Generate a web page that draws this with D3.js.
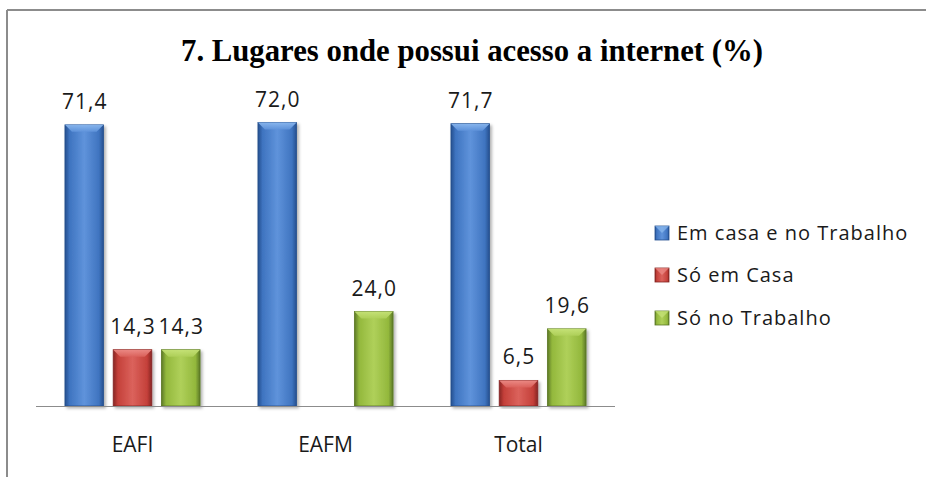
<!DOCTYPE html>
<html><head><meta charset="utf-8">
<script src="https://cdn.jsdelivr.net/npm/d3@7"></script>
<style>html,body{margin:0;padding:0;background:#fff;}svg{display:block;}</style>
</head><body>
<script>
const categories = ["EAFI", "EAFM", "Total"];
const seriesNames = ["Em casa e no Trabalho", "Só em Casa", "Só no Trabalho"];
const emCasaENoTrabalho = [71.4, 72.0, 71.7];
const soEmCasa = [14.3, null, 6.5];
const soNoTrabalho = [14.3, 24.0, 19.6];
const seriesValues = [emCasaENoTrabalho, soEmCasa, soNoTrabalho];
const title = "7. Lugares onde possui acesso a internet (%)";

const colors = [
  {base:"#3f74c0", light:"#5f93db", dark:"#244f8e", top:"#8dbaf0"},
  {base:"#c4403a", light:"#db625c", dark:"#862522", top:"#ee8f8a"},
  {base:"#93b83c", light:"#afd05a", dark:"#5b7826", top:"#c8e47a"}
];

const W = 926, H = 477;
const svg = d3.select("body").append("svg").attr("width", W).attr("height", H);
const defs = svg.append("defs");

colors.forEach((c, i) => {
  const g = defs.append("linearGradient").attr("id", "g" + i).attr("x1", "0").attr("x2", "1").attr("y1", "0").attr("y2", "0");
  g.append("stop").attr("offset", "0").attr("stop-color", c.dark);
  g.append("stop").attr("offset", "0.12").attr("stop-color", c.base);
  g.append("stop").attr("offset", "0.5").attr("stop-color", c.light);
  g.append("stop").attr("offset", "0.88").attr("stop-color", c.base);
  g.append("stop").attr("offset", "1").attr("stop-color", c.dark);
  const t = defs.append("linearGradient").attr("id", "t" + i).attr("x1", "0").attr("x2", "0").attr("y1", "0").attr("y2", "1");
  t.append("stop").attr("offset", "0").attr("stop-color", c.top);
  t.append("stop").attr("offset", "1").attr("stop-color", c.light);
});
const f = defs.append("filter").attr("id", "sh").attr("x", "-20%").attr("y", "-5%").attr("width", "150%").attr("height", "115%");
f.append("feDropShadow").attr("dx", 2).attr("dy", 2).attr("stdDeviation", 1.5).attr("flood-color", "#000").attr("flood-opacity", 0.3);

// chart border (top and left)
svg.append("line").attr("x1", 7).attr("x2", W).attr("y1", 10).attr("y2", 10).attr("stroke", "#8c8c8c").attr("stroke-width", 2);
svg.append("line").attr("x1", 7).attr("x2", 7).attr("y1", 10).attr("y2", H).attr("stroke", "#8c8c8c").attr("stroke-width", 2);

// title
svg.append("text").attr("x", 472).attr("y", 61).attr("text-anchor", "middle")
  .attr("font-family", "Liberation Serif, Times New Roman, serif").attr("font-weight", "bold")
  .attr("font-size", 31).attr("textLength", 582).attr("lengthAdjust", "spacingAndGlyphs")
  .attr("fill", "#000").text(title);

const x0 = d3.scaleBand().domain(categories).range([36, 615]).paddingInner(0.3).paddingOuter(0.15);
const x1 = d3.scaleBand().domain(d3.range(3)).range([0, x0.bandwidth()]).paddingInner(0.2);
const y = d3.scaleLinear().domain([0, 80]).range([406, 91]);

const font = "Open Sans, DejaVu Sans, sans-serif";

const groups = svg.append("g").selectAll("g").data(categories).join("g")
  .attr("transform", d => `translate(${x0(d)},0)`);

groups.each(function(cat, ci) {
  const g = d3.select(this);
  seriesValues.forEach((vals, si) => {
    const v = vals[ci];
    if (v == null) return;
    const bx = x1(si), bw = x1.bandwidth(), by = y(v), bh = y(0) - y(v);
    const bar = g.append("g").attr("filter", "url(#sh)");
    bar.append("rect").attr("x", bx).attr("y", by).attr("width", bw).attr("height", bh)
      .attr("fill", `url(#g${si})`).attr("stroke", colors[si].dark).attr("stroke-width", 0.8);
    const bev = Math.min(7, bh / 2);
    bar.append("path")
      .attr("d", `M${bx},${by} L${bx + bw},${by} L${bx + bw - bev},${by + bev} L${bx + bev},${by + bev} Z`)
      .attr("fill", `url(#t${si})`).attr("opacity", 0.9);
    g.append("text").attr("x", bx + bw / 2 + 0.5).attr("y", by - 16).attr("text-anchor", "middle")
      .attr("font-family", font).attr("font-size", 21).attr("letter-spacing", 1).attr("fill", "#1a1a1a")
      .text(d3.format(".1f")(v).replace(".", ","));
  });
});

// x axis
svg.append("line").attr("x1", 36).attr("x2", 615).attr("y1", 406.5).attr("y2", 406.5).attr("stroke", "#8c8c8c").attr("stroke-width", 1.2);
svg.append("g").selectAll("text").data(categories).join("text")
  .attr("x", d => x0(d) + x0.bandwidth() / 2).attr("y", 452).attr("text-anchor", "middle")
  .attr("font-family", font).attr("font-size", 21).attr("fill", "#1a1a1a").text(d => d);

// legend
const leg = svg.append("g").attr("transform", "translate(655,0)");
const ly = [233, 275, 318];
seriesNames.forEach((n, i) => {
  leg.append("rect").attr("x", 0).attr("y", ly[i] - 7).attr("width", 14).attr("height", 14)
    .attr("fill", `url(#g${i})`).attr("stroke", colors[i].dark).attr("stroke-width", 0.8);
  leg.append("path").attr("d", `M0,${ly[i]-7} L14,${ly[i]-7} L7,${ly[i]} Z`).attr("fill", colors[i].top).attr("opacity", 0.7);
  leg.append("text").attr("x", 22).attr("y", ly[i] + 7).attr("font-family", font).attr("font-size", 20)
    .attr("letter-spacing", 1).attr("fill", "#1a1a1a").text(n);
});
</script>
</body></html>
